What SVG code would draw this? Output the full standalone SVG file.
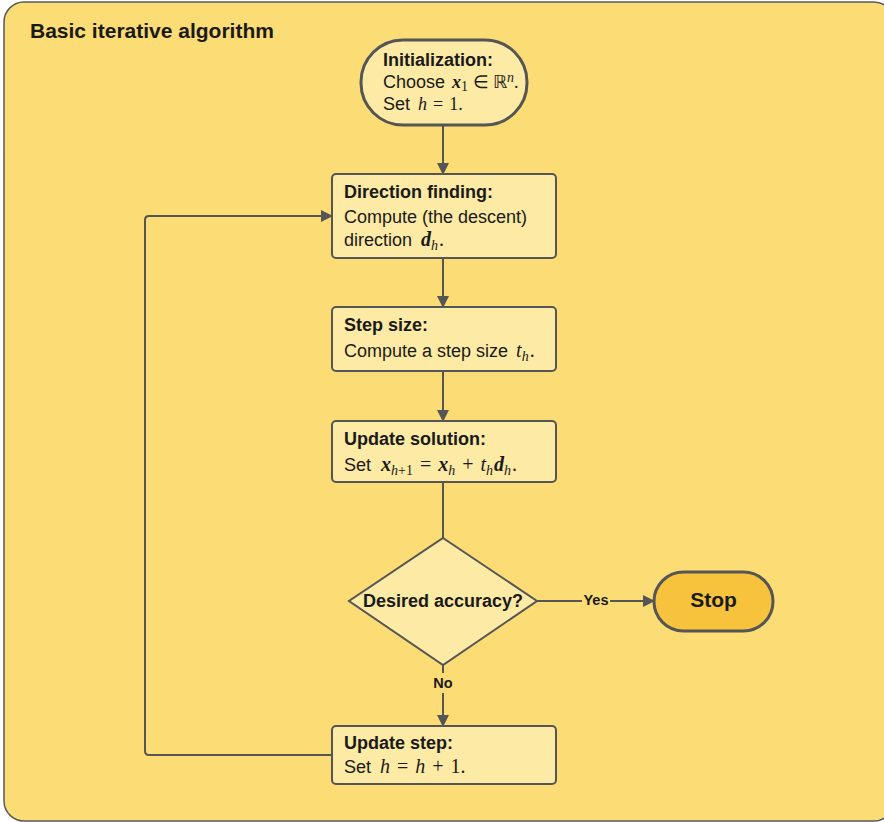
<svg xmlns="http://www.w3.org/2000/svg" width="884" height="822" viewBox="0 0 884 822">
  <defs>
    <marker id="arrow" viewBox="0 0 12 12" refX="11" refY="6" markerWidth="12" markerHeight="13" markerUnits="userSpaceOnUse" orient="auto">
      <path d="M0,0 L12,6 L0,12 z" fill="#555"/>
    </marker>
    <style>
      .box { fill: #fdeaa4; stroke: #555; stroke-width: 2; }
      .term { stroke: #555; stroke-width: 3; }
      .edge { fill: none; stroke: #555; stroke-width: 2; }
      .head { font-family: "Liberation Sans", Arial, sans-serif; font-weight: bold; font-size: 18px; fill: #1a1a1a; }
      .body { font-family: "Liberation Sans", Arial, sans-serif; font-size: 18px; fill: #1a1a1a; }
      .m { font-family: "Liberation Serif", "Times New Roman", serif; font-style: italic; font-size: 20px; }
      .mr { font-family: "Liberation Serif", "Times New Roman", serif; font-size: 20px; }
      .mb { font-family: "Liberation Serif", "Times New Roman", serif; font-style: italic; font-weight: bold; font-size: 20px; }
      .sub { font-size: 14px; }
      .tight { font-size: 18px; }
      .lbl { font-family: "Liberation Sans", Arial, sans-serif; font-weight: bold; font-size: 14.5px; fill: #1a1a1a; }
    </style>
  </defs>

  <!-- container -->
  <g id="container">
    <rect x="4" y="2" width="890" height="819" rx="20" fill="#fcdc74" stroke="#5a5a5a" stroke-width="1.5"/>
    <text x="30" y="38" class="head" style="font-size:21px">Basic iterative algorithm</text>
  </g>

  <!-- connectors -->
  <g id="connectors">
    <path class="edge" d="M443,125 V174" marker-end="url(#arrow)"/>
    <path class="edge" d="M443,258 V307" marker-end="url(#arrow)"/>
    <path class="edge" d="M443,371 V421" marker-end="url(#arrow)"/>
    <path class="edge" d="M443,482 V538"/>
    <path class="edge" d="M537,601 H582 M610,601 H654" marker-end="url(#arrow)"/>
    <text x="596" y="605" class="lbl" text-anchor="middle">Yes</text>
    <path class="edge" d="M443,665 V673 M443,693 V726" marker-end="url(#arrow)"/>
    <text x="443" y="688" class="lbl" text-anchor="middle">No</text>
    <path class="edge" d="M332,755 H149 Q145,755 145,751 V220 Q145,216 149,216 H332" marker-end="url(#arrow)"/>
  </g>

  <g id="init">
    <rect x="361" y="40" width="166" height="85" rx="42" class="term" fill="#fdeaa4"/>
    <text x="383" y="66" class="head">Initialization:</text>
    <text x="383" y="88" class="body">Choose <tspan class="mb tight" dx="2">x</tspan><tspan class="mr sub" dy="3">1</tspan><tspan class="mr tight" dy="-3" dx="5">∈</tspan><tspan class="mr tight" dx="4">ℝ</tspan><tspan class="m sub" dy="-6">n</tspan><tspan class="mr tight" dy="6">.</tspan></text>
    <text x="383" y="110" class="body">Set <tspan class="m tight" dx="3">h</tspan><tspan class="mr tight" dx="6">=</tspan><tspan class="mr tight" dx="6">1.</tspan></text>
  </g>

  <g id="direction">
    <rect x="332" y="174" width="224" height="84" rx="4" class="box"/>
    <text x="344" y="198" class="head">Direction finding:</text>
    <text x="344" y="223" class="body">Compute (the descent)</text>
    <text x="344" y="246" class="body">direction <tspan class="mb" dx="4">d</tspan><tspan class="m sub" dy="4">h</tspan><tspan class="mr" dy="-4" dx="1">.</tspan></text>
  </g>

  <g id="stepsize">
    <rect x="332" y="307" width="224" height="64" rx="4" class="box"/>
    <text x="344" y="331" class="head">Step size:</text>
    <text x="344" y="357" class="body">Compute a step size <tspan class="m" dx="3">t</tspan><tspan class="m sub" dy="4">h</tspan><tspan class="mr" dy="-4" dx="1">.</tspan></text>
  </g>

  <g id="update-solution">
    <rect x="332" y="421" width="224" height="61" rx="4" class="box"/>
    <text x="344" y="445" class="head">Update solution:</text>
    <text x="344" y="471" class="body">Set <tspan class="mb" dx="5">x</tspan><tspan class="m sub" dy="4">h</tspan><tspan class="mr sub">+1</tspan><tspan class="mr" dy="-4" dx="7">=</tspan><tspan class="mb" dx="7">x</tspan><tspan class="m sub" dy="4">h</tspan><tspan class="mr" dy="-4" dx="7">+</tspan><tspan class="m" dx="7">t</tspan><tspan class="m sub" dy="4">h</tspan><tspan class="mb" dy="-4" dx="1">d</tspan><tspan class="m sub" dy="4">h</tspan><tspan class="mr" dy="-4" dx="1">.</tspan></text>
  </g>

  <g id="decision">
    <path d="M443,538 L537,601 L443,665 L349,601 z" class="box" stroke-width="3"/>
    <text x="443" y="607" class="head" text-anchor="middle">Desired accuracy?</text>
  </g>

  <g id="stop">
    <rect x="654" y="572" width="119" height="59" rx="29.5" class="term" fill="#f8c33c" stroke-width="3.5"/>
    <text x="713.5" y="607" class="head" style="font-size:21px" text-anchor="middle">Stop</text>
  </g>

  <g id="update-step">
    <rect x="332" y="726" width="224" height="58" rx="4" class="box"/>
    <text x="344" y="749" class="head">Update step:</text>
    <text x="344" y="773" class="body">Set <tspan class="m" dx="4">h</tspan><tspan class="mr" dx="7">=</tspan><tspan class="m" dx="7">h</tspan><tspan class="mr" dx="7">+</tspan><tspan class="mr" dx="7">1.</tspan></text>
  </g>
</svg>
